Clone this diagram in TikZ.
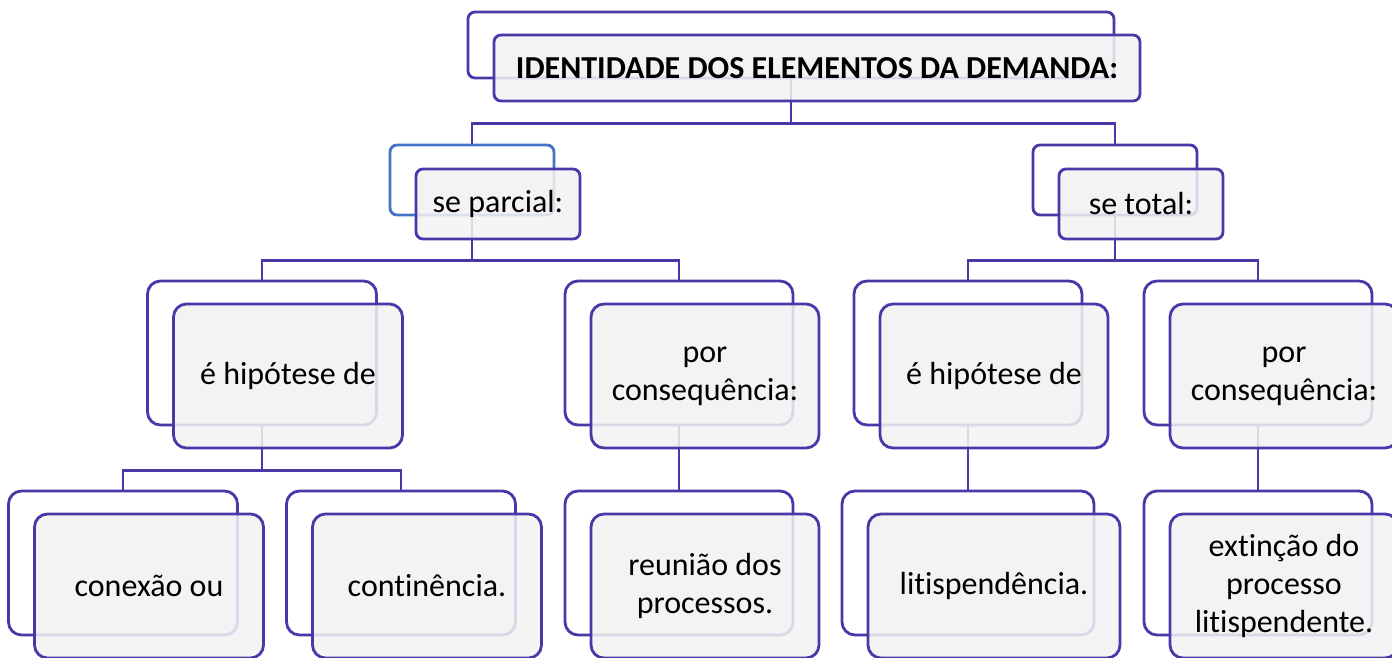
\documentclass[tikz,border=0pt]{standalone}
\usepackage{fontspec}
\setmainfont{Carlito}[Ligatures=NoCommon]

\definecolor{smpurple}{RGB}{72,56,168}
\definecolor{smblue}{RGB}{68,114,196}
\definecolor{boxgray}{RGB}{242,242,242}

\tikzset{
  backbox/.style={rectangle, draw=smpurple, line width=2.8pt, fill=white,
    rounded corners=13pt, inner sep=0pt},
  frontbox/.style={rectangle, draw=smpurple, line width=2.8pt, fill=boxgray,
    fill opacity=0.86, text opacity=1, rounded corners=13pt, inner sep=2pt,
    align=center, font=\fontsize{32}{38}\selectfont},
  elbow/.style={to path={-- ++(0,44) -| (\tikztotarget)}}
}

\begin{document}
\begin{tikzpicture}[x=1pt,y=-1pt]
  \useasboundingbox (0,0) rectangle (1392,657);

  % back shapes
  \begin{scope}[every node/.style={backbox}]
    \node[minimum width=646, minimum height=66, rounded corners=7pt] (topB) at (791,45) {};
    \node[minimum width=164, minimum height=70, rounded corners=7pt, draw=smblue] (parcialB) at (472,180) {};
    \node[minimum width=164, minimum height=70, rounded corners=7pt] (totalB) at (1115,180) {};
    \node[minimum width=229, minimum height=144] (hip1B) at (262,353) {};
    \node[minimum width=228, minimum height=144] (cons1B) at (679,353) {};
    \node[minimum width=228, minimum height=144] (hip2B) at (968,353) {};
    \node[minimum width=228, minimum height=144] (cons2B) at (1258,353) {};
    \node[minimum width=229, minimum height=144] (conexaoB) at (123,563) {};
    \node[minimum width=229, minimum height=144] (continenciaB) at (401,563) {};
    \node[minimum width=228, minimum height=144] (reuniaoB) at (679,563) {};
    \node[minimum width=252, minimum height=144] (litisB) at (968,563) {};
    \node[minimum width=228, minimum height=144] (extincaoB) at (1258,563) {};
  \end{scope}

  % connectors
  \begin{scope}[every edge/.style={draw=smpurple, line width=2.8pt, elbow}]
    \path (topB.south) edge (parcialB.north);
    \path (topB.south) edge (totalB.north);
    \path (parcialB.south) edge (hip1B.north);
    \path (parcialB.south) edge (cons1B.north);
    \path (totalB.south) edge (hip2B.north);
    \path (totalB.south) edge (cons2B.north);
    \path (hip1B.south) edge (conexaoB.north);
    \path (hip1B.south) edge (continenciaB.north);
    \path (cons1B.south) edge (reuniaoB.north);
    \path (hip2B.south) edge (litisB.north);
    \path (cons2B.south) edge (extincaoB.north);
  \end{scope}

  % front shapes with the texts
  \begin{scope}[every node/.style={frontbox}]
    \node[minimum width=646, minimum height=66, rounded corners=7pt] (top) at (817,68) {\textbf{IDENTIDADE DOS ELEMENTOS DA DEMANDA:}};
    \node[minimum width=164, minimum height=70, rounded corners=7pt] (parcial) at (498,204) {se parcial:};
    \node[minimum width=164, minimum height=70, rounded corners=7pt] (total) at (1141,204) {se total:};
    \node[minimum width=229, minimum height=144] (hip1) at (288,376) {é hipótese de};
    \node[minimum width=228, minimum height=144] (cons1) at (705,376) {por\\consequência:};
    \node[minimum width=228, minimum height=144] (hip2) at (994,376) {é hipótese de};
    \node[minimum width=228, minimum height=144] (cons2) at (1284,376) {por\\consequência:};
    \node[minimum width=229, minimum height=144] (conexao) at (149,586) {conexão ou};
    \node[minimum width=229, minimum height=144] (continencia) at (427,586) {continência.};
    \node[minimum width=228, minimum height=144] (reuniao) at (705,586) {reunião dos\\processos.};
    \node[minimum width=252, minimum height=144] (litis) at (994,586) {litispendência.};
    \node[minimum width=228, minimum height=144] (extincao) at (1284,586) {extinção do\\processo\\litispendente.};
  \end{scope}

\end{tikzpicture}
\end{document}
